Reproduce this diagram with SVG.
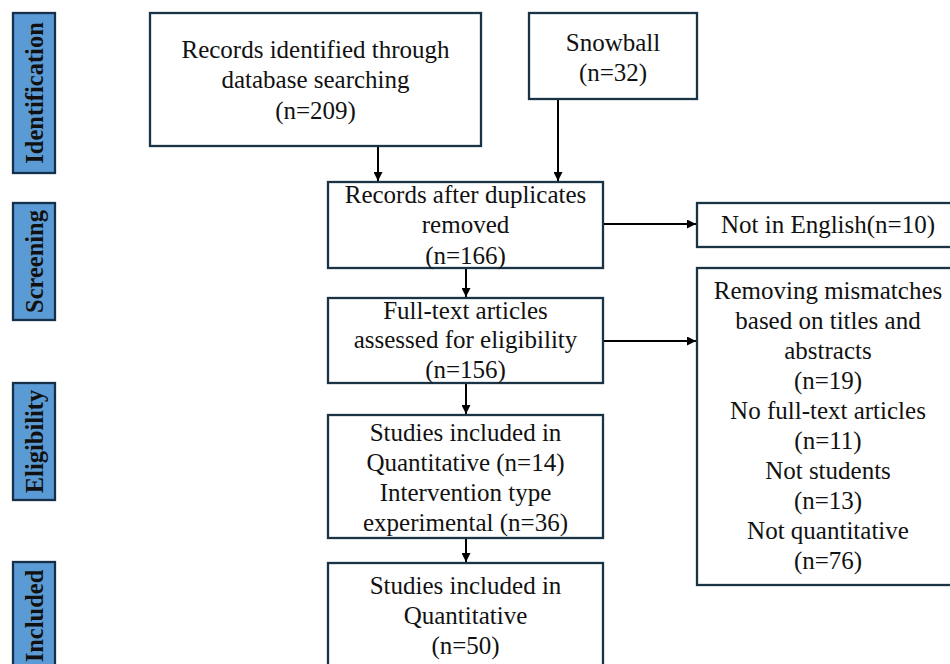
<svg xmlns="http://www.w3.org/2000/svg" width="950" height="664" viewBox="0 0 950 664">
<defs>
<style>
.box{fill:#ffffff;stroke:#1b3445;stroke-width:2.3}
.lab{fill:#5b9bd5;stroke:#17304a;stroke-width:2.3}
.t{font-family:"Liberation Serif","Times New Roman",serif;font-size:25px;fill:#111;text-anchor:middle}
.lt{font-family:"Liberation Serif","Times New Roman",serif;font-size:24.5px;font-weight:bold;fill:#111;text-anchor:middle}
.c{stroke:#000;stroke-width:2;fill:none;marker-end:url(#ah)}
</style>
<marker id="ah" viewBox="0 0 10 10" refX="10" refY="5" markerWidth="4.5" markerHeight="4.5" orient="auto" markerUnits="strokeWidth">
<path d="M0,0 L10,5 L0,10 z" fill="#000"/>
</marker>
</defs>
<rect width="950" height="664" fill="#ffffff"/>

<g id="label-identification">
<rect class="lab" x="13" y="13" width="42" height="160"/>
<text class="lt" transform="translate(43,93) rotate(-90)">Identification</text>
</g>
<g id="label-screening">
<rect class="lab" x="13" y="203" width="42" height="117"/>
<text class="lt" transform="translate(43,261.5) rotate(-90)">Screening</text>
</g>
<g id="label-eligibility">
<rect class="lab" x="13" y="383" width="42" height="117"/>
<text class="lt" transform="translate(43,441.5) rotate(-90)">Eligibility</text>
</g>
<g id="label-included">
<rect class="lab" x="13" y="562" width="42" height="120"/>
<text class="lt" transform="translate(43,616) rotate(-90)">Included</text>
</g>

<g id="connectors">
<line class="c" x1="378" y1="146" x2="378" y2="181"/>
<line class="c" x1="558" y1="99" x2="558" y2="181"/>
<line class="c" x1="466" y1="268" x2="466" y2="297"/>
<line class="c" x1="603" y1="224" x2="696" y2="224"/>
<line class="c" x1="603" y1="341" x2="696" y2="341"/>
<line class="c" x1="466" y1="383" x2="466" y2="414"/>
<line class="c" x1="466" y1="538" x2="466" y2="562"/>
</g>

<g id="records-identified">
<rect class="box" x="150" y="13" width="331" height="133"/>
<text class="t" x="315.5" y="58">Records identified through</text>
<text class="t" x="315.5" y="88">database searching</text>
<text class="t" x="315.5" y="119">(n=209)</text>
</g>
<g id="snowball">
<rect class="box" x="529" y="13" width="168" height="86"/>
<text class="t" x="613" y="51">Snowball</text>
<text class="t" x="613" y="81">(n=32)</text>
</g>
<g id="after-duplicates">
<rect class="box" x="328" y="182" width="275" height="86"/>
<text class="t" x="465.5" y="203">Records after duplicates</text>
<text class="t" x="465.5" y="233">removed</text>
<text class="t" x="465.5" y="264">(n=166)</text>
</g>
<g id="not-english">
<rect class="box" x="697" y="203" width="262" height="44"/>
<text class="t" x="828" y="233">Not in English(n=10)</text>
</g>
<g id="full-text">
<rect class="box" x="328" y="298" width="275" height="85"/>
<text class="t" x="465.5" y="319">Full-text articles</text>
<text class="t" x="465.5" y="348">assessed for eligibility</text>
<text class="t" x="465.5" y="378">(n=156)</text>
</g>
<g id="excluded">
<rect class="box" x="697" y="268" width="262" height="317"/>
<text class="t" x="828" y="299">Removing mismatches</text>
<text class="t" x="828" y="329">based on titles and</text>
<text class="t" x="828" y="359">abstracts</text>
<text class="t" x="828" y="389">(n=19)</text>
<text class="t" x="828" y="419">No full-text articles</text>
<text class="t" x="828" y="449">(n=11)</text>
<text class="t" x="828" y="479">Not students</text>
<text class="t" x="828" y="509">(n=13)</text>
<text class="t" x="828" y="539">Not quantitative</text>
<text class="t" x="828" y="569">(n=76)</text>
</g>
<g id="studies-included">
<rect class="box" x="328" y="415" width="275" height="123"/>
<text class="t" x="465.5" y="441">Studies included in</text>
<text class="t" x="465.5" y="471">Quantitative (n=14)</text>
<text class="t" x="465.5" y="501">Intervention type</text>
<text class="t" x="465.5" y="531">experimental (n=36)</text>
</g>
<g id="final-included">
<rect class="box" x="328" y="563" width="275" height="120"/>
<text class="t" x="465.5" y="594">Studies included in</text>
<text class="t" x="465.5" y="624">Quantitative</text>
<text class="t" x="465.5" y="654">(n=50)</text>
</g>
</svg>
